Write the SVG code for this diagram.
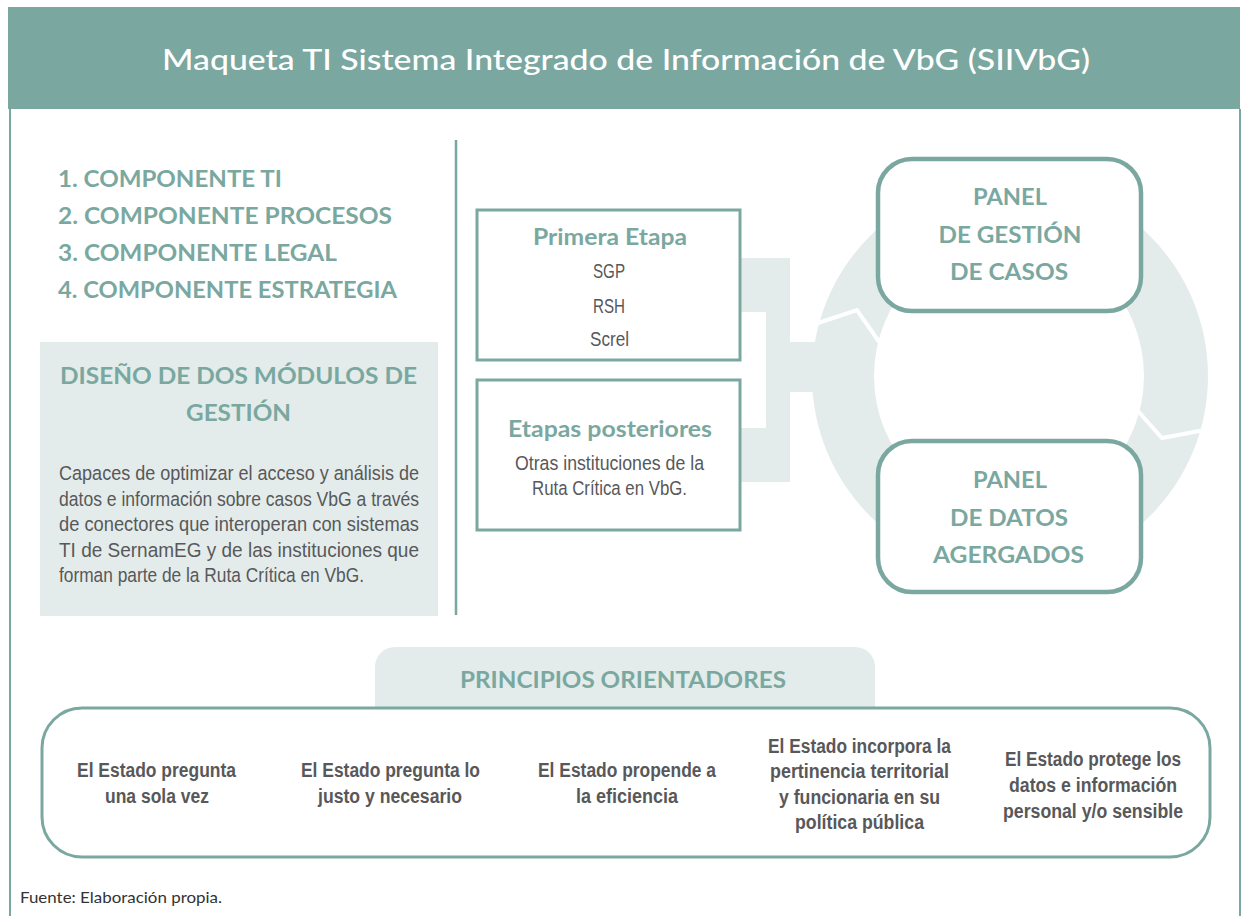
<svg xmlns="http://www.w3.org/2000/svg" width="1241" height="916" viewBox="0 0 1241 916">
<style>
.teal{fill:#7aa8a0;font-family:Lato,"Open Sans",sans-serif;font-weight:bold}
.body{fill:#58585a;font-family:"Liberation Sans Narrow","Liberation Sans",Arial,sans-serif}
.bold{fill:#58585a;font-family:"Liberation Sans Narrow","Liberation Sans",Arial,sans-serif;font-weight:bold;font-size:20px}
.box{fill:#fff;stroke:#7aa8a0;stroke-width:3}
.panel{fill:#fff;stroke:#7aa8a0;stroke-width:4.5}
.light{fill:#e3ecea}
.c{text-anchor:middle}
</style>
<rect width="1241" height="916" fill="#fff"/>
<g id="frame">
<rect x="8" y="7" width="1232" height="102" fill="#7aa79f"/>
<line x1="10" y1="109" x2="10" y2="916" stroke="#7aa8a0" stroke-width="2"/>
<line x1="1240" y1="109" x2="1240" y2="916" stroke="#7aa8a0" stroke-width="2"/>
<text x="626" y="70" class="c" fill="#fff" font-family="Lato,'Open Sans',sans-serif" font-size="29" font-weight="500" textLength="928" lengthAdjust="spacingAndGlyphs">Maqueta TI Sistema Integrado de Información de VbG (SIIVbG)</text>
<line x1="456" y1="140" x2="456" y2="615" stroke="#7aa8a0" stroke-width="2.5"/>
</g>
<g id="components">
<text x="58" y="187" class="teal" font-size="22" textLength="224" lengthAdjust="spacingAndGlyphs">1. COMPONENTE TI</text>
<text x="58" y="224" class="teal" font-size="22" textLength="334" lengthAdjust="spacingAndGlyphs">2. COMPONENTE PROCESOS</text>
<text x="58" y="261" class="teal" font-size="22" textLength="279" lengthAdjust="spacingAndGlyphs">3. COMPONENTE LEGAL</text>
<text x="58" y="298" class="teal" font-size="22" textLength="339" lengthAdjust="spacingAndGlyphs">4. COMPONENTE ESTRATEGIA</text>
</g>
<g id="modulos">
<rect x="40" y="342" width="398" height="274" class="light"/>
<text x="238.5" y="384" class="teal c" font-size="23" textLength="357" lengthAdjust="spacingAndGlyphs">DISEÑO DE DOS MÓDULOS DE</text>
<text x="238.5" y="421" class="teal c" font-size="23" textLength="105" lengthAdjust="spacingAndGlyphs">GESTIÓN</text>
<g class="body" font-size="20.5">
<text x="59" y="480" textLength="360" lengthAdjust="spacingAndGlyphs">Capaces de optimizar el acceso y análisis de</text>
<text x="59" y="506" textLength="360" lengthAdjust="spacingAndGlyphs">datos e información sobre casos VbG a través</text>
<text x="59" y="531" textLength="360" lengthAdjust="spacingAndGlyphs">de conectores que interoperan con sistemas</text>
<text x="59" y="557" textLength="360" lengthAdjust="spacingAndGlyphs">TI de SernamEG y de las instituciones que</text>
<text x="59" y="582" textLength="305" lengthAdjust="spacingAndGlyphs">forman parte de la Ruta Crítica en VbG.</text>
</g>
</g>
<g id="connectors">
<path class="light" d="M740 258 H790 V342 H830 V392 H790 V482 H740 V428 H766 V312 H740 Z"/>
<path class="light" fill-rule="evenodd" d="M812 376 A198 198 0 1 0 1208 376 A198 198 0 1 0 812 376 Z M874 376 A135 138 0 1 1 1144 376 A135 138 0 1 1 874 376 Z"/>
<polyline points="812,325 857,310 882,346" fill="none" stroke="#fff" stroke-width="4"/>
<polyline points="1137,410 1162,438 1210,429" fill="none" stroke="#fff" stroke-width="4"/>
</g>
<g id="primera-etapa">
<rect x="477" y="210" width="263" height="150" class="box"/>
<text x="610" y="245" class="teal c" font-size="22" textLength="154" lengthAdjust="spacingAndGlyphs">Primera Etapa</text>
<text x="609" y="278" class="body c" font-size="21" textLength="32" lengthAdjust="spacingAndGlyphs">SGP</text>
<text x="609" y="313" class="body c" font-size="21" textLength="32" lengthAdjust="spacingAndGlyphs">RSH</text>
<text x="609.5" y="346" class="body c" font-size="21" textLength="39" lengthAdjust="spacingAndGlyphs">Screl</text>
</g>
<g id="etapas-posteriores">
<rect x="477" y="380" width="263" height="150" class="box"/>
<text x="610" y="437" class="teal c" font-size="22" textLength="204" lengthAdjust="spacingAndGlyphs">Etapas posteriores</text>
<text x="609.5" y="470" class="body c" font-size="20.5" textLength="189" lengthAdjust="spacingAndGlyphs">Otras instituciones de la</text>
<text x="609.5" y="495" class="body c" font-size="20.5" textLength="155" lengthAdjust="spacingAndGlyphs">Ruta Crítica en VbG.</text>
</g>
<g id="panel-gestion">
<rect x="878" y="159" width="263" height="152" rx="34" class="panel"/>
<text x="1010" y="205" class="teal c" font-size="22" textLength="74" lengthAdjust="spacingAndGlyphs">PANEL</text>
<text x="1010" y="243" class="teal c" font-size="22" textLength="143" lengthAdjust="spacingAndGlyphs">DE GESTIÓN</text>
<text x="1009" y="280" class="teal c" font-size="22" textLength="118" lengthAdjust="spacingAndGlyphs">DE CASOS</text>
</g>
<g id="panel-datos">
<rect x="878" y="441" width="263" height="151" rx="34" class="panel"/>
<text x="1010" y="488" class="teal c" font-size="22" textLength="74" lengthAdjust="spacingAndGlyphs">PANEL</text>
<text x="1009" y="526" class="teal c" font-size="22" textLength="118" lengthAdjust="spacingAndGlyphs">DE DATOS</text>
<text x="1008.5" y="563" class="teal c" font-size="22" textLength="151" lengthAdjust="spacingAndGlyphs">AGERGADOS</text>
</g>
<g id="principios">
<path class="light" d="M375 708 V667 A20 20 0 0 1 395 647 H855 A20 20 0 0 1 875 667 V708 Z"/>
<text x="623" y="688" class="teal c" font-size="22" font-weight="500" textLength="326" lengthAdjust="spacingAndGlyphs">PRINCIPIOS ORIENTADORES</text>
<rect x="42" y="708" width="1168" height="149" rx="40" fill="none" stroke="#7aa8a0" stroke-width="3"/>
<g class="bold c">
<text x="156.5" y="777" textLength="159" lengthAdjust="spacingAndGlyphs">El Estado pregunta</text>
<text x="157" y="803" textLength="104" lengthAdjust="spacingAndGlyphs">una sola vez</text>
<text x="390.5" y="777" textLength="179" lengthAdjust="spacingAndGlyphs">El Estado pregunta lo</text>
<text x="390" y="803" textLength="144" lengthAdjust="spacingAndGlyphs">justo y necesario</text>
<text x="627" y="777" textLength="178" lengthAdjust="spacingAndGlyphs">El Estado propende a</text>
<text x="627" y="803" textLength="102" lengthAdjust="spacingAndGlyphs">la eficiencia</text>
<text x="859.5" y="753" textLength="183" lengthAdjust="spacingAndGlyphs">El Estado incorpora la</text>
<text x="859.5" y="778" textLength="179" lengthAdjust="spacingAndGlyphs">pertinencia territorial</text>
<text x="859.5" y="804" textLength="161" lengthAdjust="spacingAndGlyphs">y funcionaria en su</text>
<text x="859.5" y="829" textLength="129" lengthAdjust="spacingAndGlyphs">política pública</text>
<text x="1093" y="766" textLength="176" lengthAdjust="spacingAndGlyphs">El Estado protege los</text>
<text x="1093" y="792" textLength="168" lengthAdjust="spacingAndGlyphs">datos e información</text>
<text x="1093" y="818" textLength="180" lengthAdjust="spacingAndGlyphs">personal y/o sensible</text>
</g>
</g>
<g id="fuente">
<text x="20" y="903" fill="#333" font-family="Lato,'Open Sans',sans-serif" font-size="15" textLength="202" lengthAdjust="spacingAndGlyphs">Fuente: Elaboración propia.</text>
</g>
</svg>
